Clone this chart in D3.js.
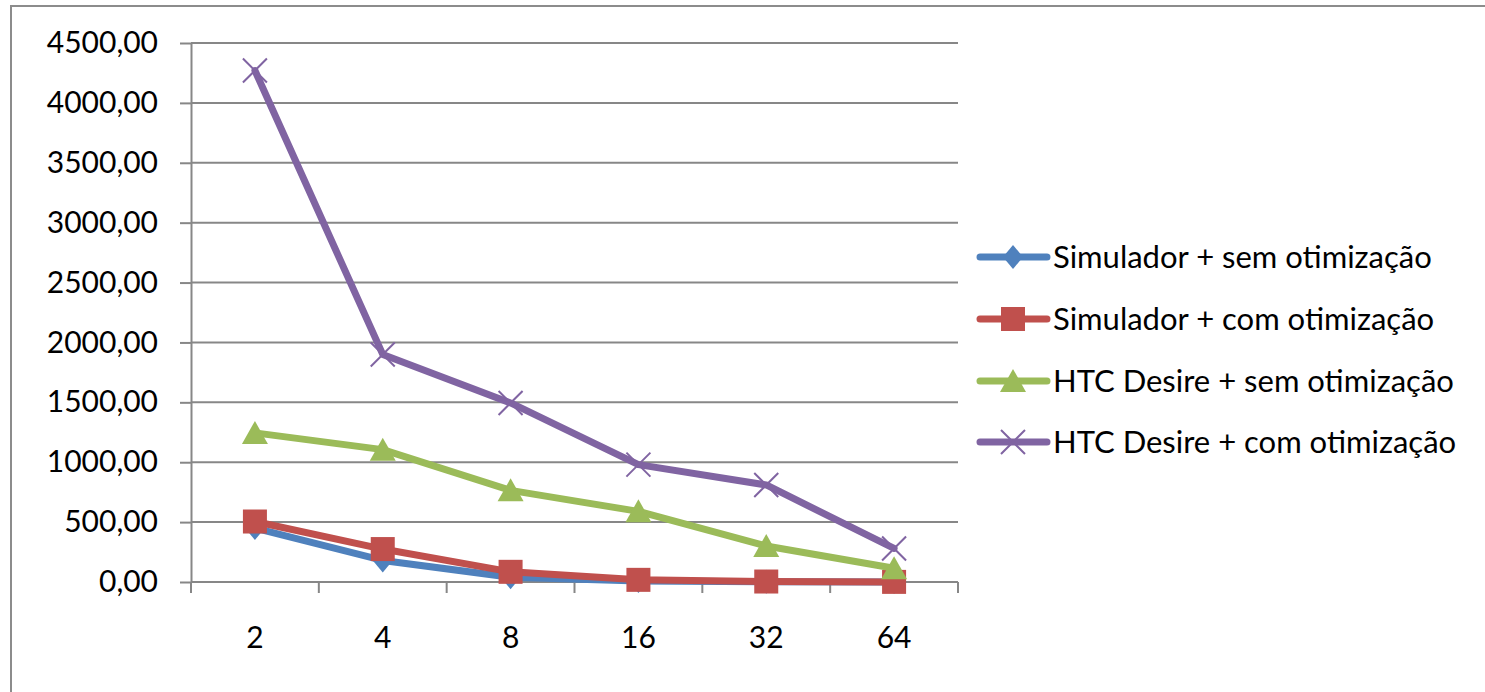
<!DOCTYPE html>
<html>
<head>
<meta charset="utf-8">
<script src="https://cdn.jsdelivr.net/npm/d3@7"></script>
<style>
  html, body { margin: 0; padding: 0; background: #fff; overflow: hidden; }
  svg { display: block; }
  text { font-family: "Lato", "Open Sans", sans-serif; fill: #000; }
</style>
</head>
<body>
<svg id="chart" width="1485" height="692"></svg>
<script>
// Thread counts on the horizontal axis
const categories = ["2", "4", "8", "16", "32", "64"];

// Execution time per configuration
const simSem = [450, 180, 40, 8, 2, 1];
const simCom = [505, 275, 85, 18, 4, 1];
const htcSem = [1245, 1105, 765, 590, 300, 115];
const htcCom = [4270, 1900, 1495, 980, 810, 280];

const seriesNames = [
  "Simulador + sem otimização",
  "Simulador + com otimização",
  "HTC Desire + sem otimização",
  "HTC Desire + com otimização"
];

const yTicks = [0, 500, 1000, 1500, 2000, 2500, 3000, 3500, 4000, 4500];

const series = [
  { name: seriesNames[0], values: simSem, color: "#4F81BD", marker: "diamond" },
  { name: seriesNames[1], values: simCom, color: "#C0504D", marker: "square" },
  { name: seriesNames[2], values: htcSem, color: "#9BBB59", marker: "triangle" },
  { name: seriesNames[3], values: htcCom, color: "#8064A2", marker: "cross" }
];

const svg = d3.select("#chart");

// Chart frame (top and left edges; the rest runs past the page)
svg.append("path")
  .attr("d", "M11,700V6H1485")
  .attr("fill", "none")
  .attr("stroke", "#8c8c8c").attr("stroke-width", 2);

const plot = { left: 191, right: 958, top: 43, bottom: 582 };

const x = d3.scaleBand().domain(categories).range([plot.left, plot.right]).padding(0);
const cx = c => x(c) + x.bandwidth() / 2;
const y = d3.scaleLinear().domain([0, 4500]).range([plot.bottom, plot.top]);

const ptBR = d3.formatLocale({ decimal: ",", thousands: "", grouping: [3], currency: ["", ""] });
const fmt = ptBR.format(".2f");

const gridColor = "#878787";
const axisFont = 30;
const legendFont = 31;

// Horizontal gridlines
svg.append("g").selectAll("line")
  .data(yTicks.filter(d => d > 0))
  .join("line")
  .attr("x1", plot.left).attr("x2", plot.right)
  .attr("y1", d => y(d)).attr("y2", d => y(d))
  .attr("stroke", gridColor).attr("stroke-width", 2);

// Value axis
const yAxis = svg.append("g")
  .attr("transform", `translate(${plot.left},0)`)
  .call(d3.axisLeft(y).tickValues(yTicks).tickFormat(fmt).tickSize(11).tickPadding(22).tickSizeOuter(0));
yAxis.select(".domain").attr("stroke", gridColor).attr("stroke-width", 2);
yAxis.selectAll(".tick line").attr("stroke", gridColor).attr("stroke-width", 2);
yAxis.selectAll(".tick text")
  .attr("font-size", axisFont).attr("fill", "#000")
  .style("font-family", '"Lato", sans-serif');

// Category axis: baseline and tick marks at band edges
const xAxis = svg.append("g");
xAxis.append("line")
  .attr("x1", plot.left).attr("x2", plot.right)
  .attr("y1", plot.bottom).attr("y2", plot.bottom)
  .attr("stroke", gridColor).attr("stroke-width", 2);
const edges = categories.map(c => x(c)).concat([x(categories[categories.length - 1]) + x.bandwidth()]);
xAxis.selectAll("line.tick")
  .data(edges)
  .join("line")
  .attr("class", "tick")
  .attr("x1", d => d).attr("x2", d => d)
  .attr("y1", plot.bottom).attr("y2", plot.bottom + 11)
  .attr("stroke", gridColor).attr("stroke-width", 2);
xAxis.selectAll("text")
  .data(categories)
  .join("text")
  .attr("x", d => cx(d))
  .attr("y", 637)
  .attr("dy", "0.35em")
  .attr("text-anchor", "middle")
  .attr("font-size", axisFont)
  .text(d => d);

// Marker shapes
function drawMarker(g, type, color) {
  if (type === "diamond") {
    g.append("path").attr("d", "M0,-12L10,0L0,12L-10,0Z").attr("fill", color);
  } else if (type === "square") {
    g.append("rect").attr("x", -12).attr("y", -12).attr("width", 24).attr("height", 24).attr("fill", color);
  } else if (type === "triangle") {
    g.append("path").attr("d", "M0,-12L13,11L-13,11Z").attr("fill", color);
  } else if (type === "cross") {
    g.append("path").attr("d", "M-12,-12L12,12M-12,12L12,-12")
      .attr("stroke", color).attr("stroke-width", 2).attr("fill", "none");
  }
}

const line = d3.line()
  .x((d, i) => cx(categories[i]))
  .y(d => y(d));

series.forEach(s => {
  const g = svg.append("g");
  g.append("path")
    .attr("d", line(s.values))
    .attr("fill", "none")
    .attr("stroke", s.color)
    .attr("stroke-width", 7)
    .attr("stroke-linejoin", "round")
    .attr("stroke-linecap", "round");
  s.values.forEach((v, i) => {
    const m = g.append("g").attr("transform", `translate(${cx(categories[i])},${y(v)})`);
    drawMarker(m, s.marker, s.color);
  });
});

// Legend
const legendRows = [257, 319, 381, 442];
const legend = svg.append("g");
series.forEach((s, i) => {
  const row = legend.append("g").attr("transform", `translate(0,${legendRows[i]})`);
  row.append("line")
    .attr("x1", 980).attr("x2", 1047)
    .attr("y1", 0).attr("y2", 0)
    .attr("stroke", s.color).attr("stroke-width", 7)
    .attr("stroke-linecap", "round");
  const m = row.append("g").attr("transform", "translate(1013,0)");
  drawMarker(m, s.marker, s.color);
  row.append("text")
    .attr("x", 1053).attr("y", 0).attr("dy", "0.35em")
    .attr("font-size", legendFont)
    .text(s.name);
});
</script>
</body>
</html>
